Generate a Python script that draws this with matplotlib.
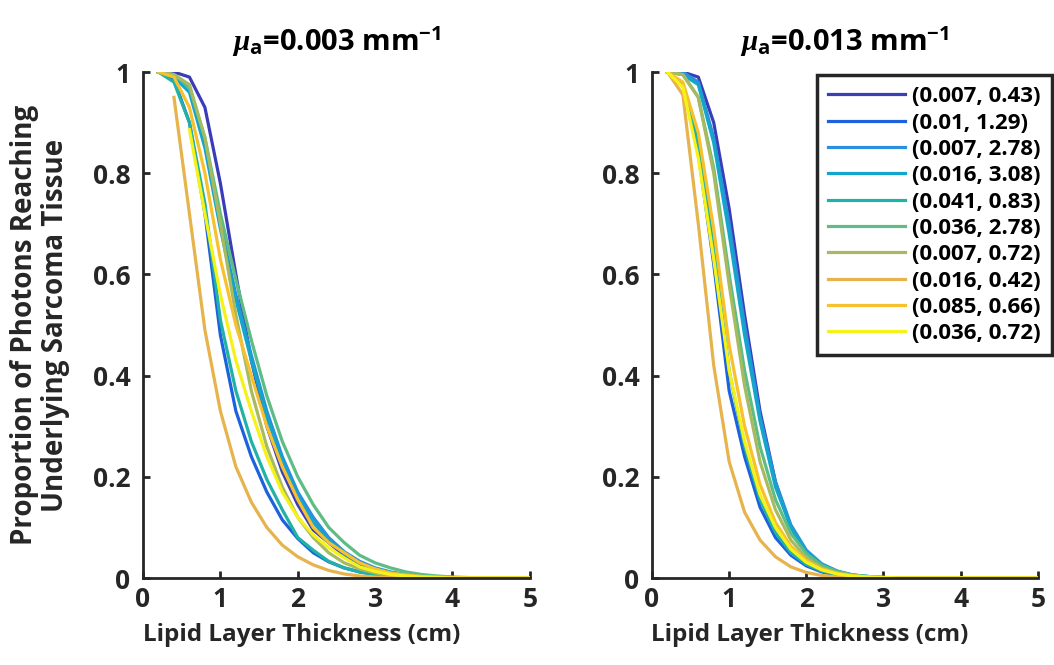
import numpy as np
import matplotlib
matplotlib.use("Agg")
import matplotlib.pyplot as plt

plt.rcParams['font.family'] = ['Open Sans', 'DejaVu Sans']
plt.rcParams['font.weight'] = 'bold'
plt.rcParams['mathtext.fontset'] = 'custom'
plt.rcParams['mathtext.rm'] = 'Open Sans:bold'
plt.rcParams['mathtext.bf'] = 'Open Sans:bold'
plt.rcParams['mathtext.it'] = 'Liberation Serif:italic'

# lipid layer thickness (cm), sampled every 2 mm
thickness = np.round(np.arange(0.2, 5.01, 0.2), 1)

labels = ['(0.007, 0.43)', '(0.01, 1.29)', '(0.007, 2.78)', '(0.016, 3.08)',
          '(0.041, 0.83)', '(0.036, 2.78)', '(0.007, 0.72)', '(0.016, 0.42)',
          '(0.085, 0.66)', '(0.036, 0.72)']
colors = ['#3a3cb8', '#1c62de', '#2a8fdc', '#13a5cb', '#20b2a6',
          '#5dbd84', '#a8ba60', '#e6b34c', '#f7c02e', '#f5f219']

# mu_a = 0.003 mm^-1 (nan = no photons recorded at that thickness)
nan = np.nan
low_mua = [
    [1.0, 1.0, 0.99, 0.93, 0.78, 0.60, 0.43, 0.30, 0.21, 0.145, 0.095, 0.07, 0.045,
     0.028, 0.017, 0.010, 0.006, 0.004, 0.002, 0.001, 0, 0, 0, 0, 0],
    [1.0, 0.985, 0.90, 0.72, 0.48, 0.33, 0.24, 0.17, 0.115, 0.078, 0.05, 0.032, 0.02,
     0.012, 0.007, 0.004, 0.002, 0.001, 0, 0, 0, 0, 0, 0, 0],
    [1.0, 0.995, 0.97, 0.86, 0.70, 0.56, 0.44, 0.33, 0.24, 0.17, 0.12, 0.08, 0.052,
     0.033, 0.02, 0.012, 0.007, 0.004, 0.002, 0.001, 0, 0, 0, 0, 0],
    [1.0, 0.99, 0.96, 0.85, 0.69, 0.55, 0.43, 0.32, 0.23, 0.16, 0.11, 0.075, 0.048,
     0.03, 0.018, 0.011, 0.006, 0.003, 0.002, 0.001, 0, 0, 0, 0, 0],
    [1.0, 0.98, 0.90, 0.74, 0.51, 0.37, 0.27, 0.195, 0.135, 0.08, 0.055, 0.033, 0.02,
     0.012, 0.007, 0.004, 0.002, 0.001, 0, 0, 0, 0, 0, 0, 0],
    [1.0, 0.995, 0.97, 0.87, 0.72, 0.59, 0.47, 0.36, 0.27, 0.20, 0.145, 0.10, 0.07,
     0.045, 0.03, 0.02, 0.012, 0.007, 0.004, 0.002, 0.001, 0, 0, 0, 0],
    [1.0, 0.995, 0.975, 0.87, 0.70, 0.52, 0.37, 0.26, 0.18, 0.12, 0.08, 0.05, 0.03,
     0.018, 0.01, 0.006, 0.003, 0.002, 0.001, 0, 0, 0, 0, 0, 0],
    [nan, 0.95, 0.72, 0.49, 0.33, 0.22, 0.15, 0.10, 0.065, 0.042, 0.026, 0.015, 0.008,
     0.004, 0.002, 0.001, 0, 0, 0, 0, 0, 0, 0, 0, 0],
    [1.0, 0.99, 0.93, 0.80, 0.63, 0.50, 0.40, 0.30, 0.22, 0.155, 0.10, 0.07, 0.05,
     0.03, 0.018, 0.01, 0.006, 0.003, 0.002, 0.001, 0, 0, 0, 0, 0],
    [nan, nan, 0.886, 0.72, 0.56, 0.43, 0.33, 0.24, 0.17, 0.12, 0.085, 0.06, 0.04,
     0.022, 0.013, 0.007, 0.004, 0.002, 0.001, 0, 0, 0, 0, 0, 0],
]

# mu_a = 0.013 mm^-1
high_mua = [
    [1.0, 1.0, 0.99, 0.90, 0.73, 0.52, 0.33, 0.19, 0.10, 0.05, 0.024, 0.011, 0.005,
     0.002, 0.001, 0, 0, 0, 0, 0, 0, 0, 0, 0, 0],
    [1.0, 0.975, 0.84, 0.62, 0.37, 0.24, 0.14, 0.08, 0.045, 0.024, 0.012, 0.006, 0.003,
     0.001, 0, 0, 0, 0, 0, 0, 0, 0, 0, 0, 0],
    [1.0, 1.0, 0.98, 0.87, 0.70, 0.50, 0.32, 0.19, 0.105, 0.055, 0.028, 0.014, 0.006,
     0.003, 0.001, 0, 0, 0, 0, 0, 0, 0, 0, 0, 0],
    [1.0, 0.995, 0.975, 0.86, 0.68, 0.48, 0.31, 0.18, 0.10, 0.052, 0.027, 0.013, 0.006,
     0.003, 0.001, 0, 0, 0, 0, 0, 0, 0, 0, 0, 0],
    [1.0, 0.975, 0.86, 0.65, 0.41, 0.26, 0.155, 0.09, 0.05, 0.027, 0.014, 0.007, 0.003,
     0.001, 0, 0, 0, 0, 0, 0, 0, 0, 0, 0, 0],
    [1.0, 0.995, 0.95, 0.81, 0.60, 0.41, 0.26, 0.155, 0.088, 0.048, 0.025, 0.013, 0.006,
     0.003, 0.001, 0, 0, 0, 0, 0, 0, 0, 0, 0, 0],
    [1.0, 0.995, 0.95, 0.80, 0.58, 0.38, 0.23, 0.135, 0.075, 0.04, 0.02, 0.01, 0.005,
     0.002, 0.001, 0, 0, 0, 0, 0, 0, 0, 0, 0, 0],
    [1.0, 0.955, 0.70, 0.42, 0.23, 0.13, 0.075, 0.042, 0.022, 0.011, 0.005, 0.002, 0.001,
     0, 0, 0, 0, 0, 0, 0, 0, 0, 0, 0, 0],
    [1.0, 0.98, 0.88, 0.69, 0.46, 0.30, 0.185, 0.11, 0.063, 0.035, 0.018, 0.009, 0.004,
     0.002, 0.001, 0, 0, 0, 0, 0, 0, 0, 0, 0, 0],
    [1.0, 0.97, 0.83, 0.63, 0.41, 0.27, 0.165, 0.10, 0.057, 0.031, 0.016, 0.008, 0.004,
     0.002, 0.001, 0, 0, 0, 0, 0, 0, 0, 0, 0, 0],
]

titles = [r'$\mu_{\mathbf{a}}$=0.003 mm$^{\mathbf{-1}}$',
          r'$\mu_{\mathbf{a}}$=0.013 mm$^{\mathbf{-1}}$']
x_ticks = [0, 1, 2, 3, 4, 5]
y_ticks = [0, 0.2, 0.4, 0.6, 0.8, 1]
y_tick_labels = ['0', '0.2', '0.4', '0.6', '0.8', '1']

fig = plt.figure(figsize=(10.54, 6.65), dpi=100)
ax_l = fig.add_axes([0.1357, 0.1308, 0.367, 0.7609])
ax_r = fig.add_axes([0.6186, 0.1308, 0.366, 0.7609])

axis_color = '#262626'
for ax, data, title in zip([ax_l, ax_r], [low_mua, high_mua], titles):
    for curve, c, lab in zip(data, colors, labels):
        ax.plot(thickness, curve, color=c, lw=2.3, label=lab)
    ax.set_xlim(0, 5)
    ax.set_ylim(0, 1)
    ax.set_xticks(x_ticks)
    ax.set_yticks(y_ticks)
    ax.set_yticklabels(y_tick_labels)
    for side in ['top', 'right']:
        ax.spines[side].set_visible(False)
    for side in ['left', 'bottom']:
        ax.spines[side].set_linewidth(2.0)
        ax.spines[side].set_color(axis_color)
    ax.tick_params(direction='in', length=5, width=2.0, colors=axis_color,
                   labelsize=19)
    ax.tick_params(axis='y', pad=9)
    ax.tick_params(axis='x', pad=6)
    for t in ax.get_xticklabels() + ax.get_yticklabels():
        t.set_fontweight('bold')
    ax.set_xlabel('Lipid Layer Thickness (cm)', fontsize=17.5, fontweight='bold',
                  color=axis_color)
    ax.xaxis.set_label_coords(0.41, -0.088)
    ax.set_title(title, fontsize=21, fontweight='bold', color='black', pad=15)

ax_l.set_ylabel('Proportion of Photons Reaching\nUnderlying Sarcoma Tissue',
                fontsize=20, fontweight='bold', color=axis_color,
                linespacing=1.05)
ax_l.yaxis.set_label_coords(-0.19, 0.5)

leg = ax_r.legend(loc='upper right', bbox_to_anchor=(0.998, 0.887),
                  bbox_transform=fig.transFigure, fontsize=16,
                  handlelength=3.5, handletextpad=0.3, labelspacing=0.24,
                  borderpad=0.5, borderaxespad=0, fancybox=False, framealpha=1)
leg.get_frame().set_edgecolor(axis_color)
leg.get_frame().set_linewidth(2.5)
for t in leg.get_texts():
    t.set_fontweight('bold')
    t.set_color('black')

fig.savefig('out.png', dpi=100)
